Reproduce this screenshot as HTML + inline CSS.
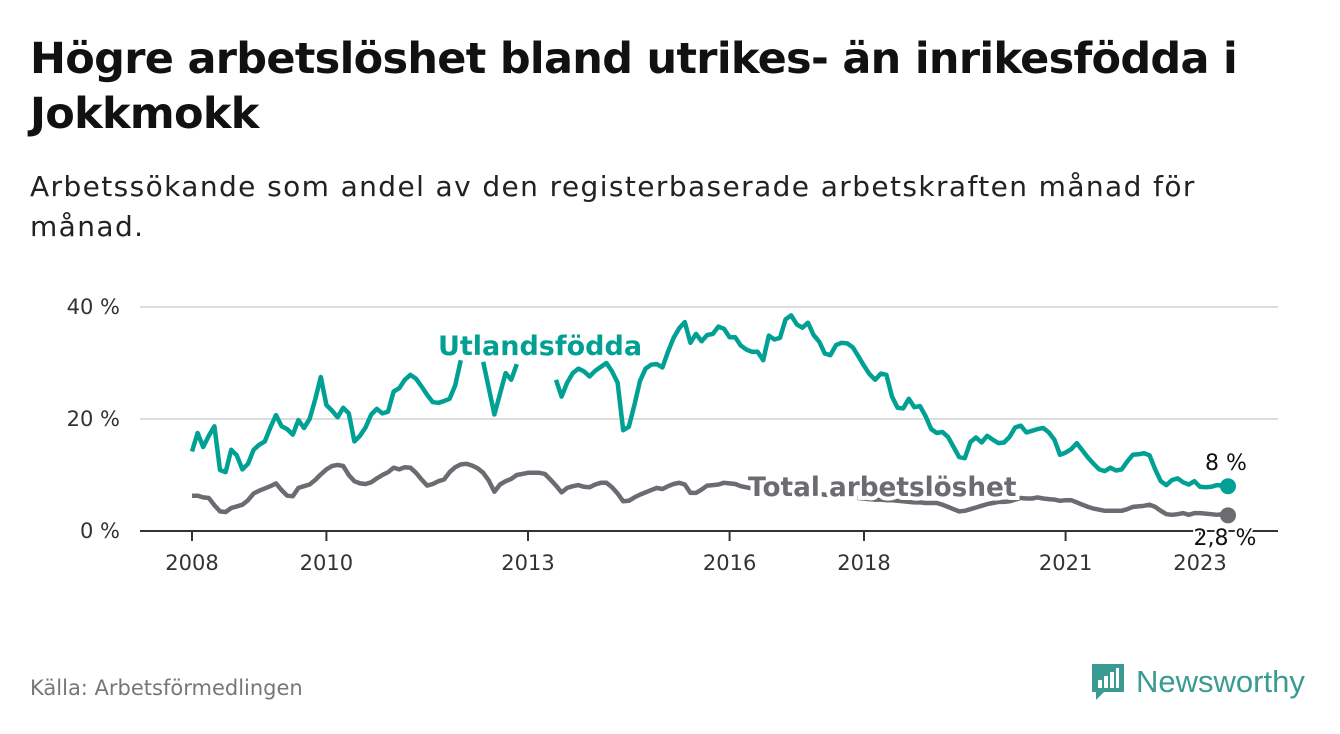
<!DOCTYPE html>
<html><head><meta charset="utf-8">
<style>
body{margin:0;background:#fff;width:1340px;height:734px;overflow:hidden;font-family:"DejaVu Sans",sans-serif;}
#title{position:absolute;left:30px;top:32px;font-size:43px;letter-spacing:-0.7px;font-weight:bold;line-height:55px;color:#111;margin:0;}
#sub{position:absolute;left:30px;top:167px;font-size:28px;letter-spacing:1.4px;line-height:40px;color:#222;margin:0;}
#src{position:absolute;left:30px;top:676px;font-size:21px;color:#777;}
#logo{position:absolute;left:1090px;top:662px;display:flex;align-items:center;}
#logo span{font-family:"Liberation Sans",sans-serif;font-size:31px;color:#3a9b92;margin-left:10px;}
svg{position:absolute;left:0;top:0;}
</style></head><body>
<h1 id="title">Högre arbetslöshet bland utrikes- än inrikesfödda i<br>Jokkmokk</h1>
<p id="sub">Arbetssökande som andel av den registerbaserade arbetskraften månad för<br>månad.</p>
<div id="src">Källa: Arbetsförmedlingen</div>
<div id="logo">
<svg width="36" height="40" style="position:static"><path d="M2 2h32v28H14l-8 8v-8H2z" fill="#3a9b92"/><rect x="8" y="18" width="4" height="8" fill="#fff"/><rect x="14" y="14" width="4" height="12" fill="#fff"/><rect x="20" y="10" width="4" height="16" fill="#fff"/><rect x="26" y="6" width="3" height="20" fill="#fff"/></svg>
<span>Newsworthy</span></div>
<svg id="chart" width="1340" height="734"></svg>
<script>
const yTicks=[0,20,40];
const yTickLabels=["0 %","20 %","40 %"];
const xTicks=[2008,2010,2013,2016,2018,2021,2023];
const startYear=2008;
const utland=[14.2,17.5,15.0,17,18.7,10.9,10.5,14.5,13.5,11,12,14.5,15.4,16,18.5,20.7,18.7,18.2,17.2,19.8,18.4,20,23.5,27.5,22.5,21.5,20.3,22,21,16,17,18.5,20.8,21.8,21,21.3,24.9,25.5,27,27.9,27.2,25.8,24.3,23,22.9,23.2,23.6,26,30.5,null,null,null,30.2,25.5,20.8,24.5,28.2,27,29.8,null,null,null,null,null,null,27,24,26.5,28.2,29,28.5,27.6,28.6,29.3,30,28.5,26.5,18,18.6,22.5,26.8,29,29.7,29.8,29.2,32,34.5,36.2,37.3,33.6,35.2,33.9,35,35.2,36.5,36.1,34.6,34.6,33.1,32.4,32,32,30.5,34.9,34.2,34.5,37.8,38.5,36.9,36.3,37.2,35,33.8,31.7,31.4,33.2,33.6,33.5,32.8,31.2,29.5,28,27,28.1,27.9,24,22,21.9,23.6,22.1,22.3,20.5,18.2,17.5,17.7,16.8,15,13.2,13,15.9,16.7,15.8,17,16.3,15.7,15.8,16.8,18.5,18.8,17.6,17.9,18.2,18.4,17.6,16.3,13.6,14,14.6,15.7,14.4,13.1,12,11,10.7,11.3,10.8,11,12.4,13.6,13.7,13.9,13.5,11,8.9,8.2,9.1,9.4,8.7,8.3,8.9,7.9,7.8,7.9,8.2,8.1,8.0];
const total=[6.3,6.3,6.0,5.9,4.6,3.5,3.4,4.1,4.4,4.7,5.5,6.7,7.2,7.6,8.0,8.5,7.3,6.3,6.2,7.7,8.0,8.3,9.1,10.1,11.0,11.6,11.8,11.6,10,8.9,8.5,8.4,8.7,9.4,10.0,10.5,11.3,11,11.4,11.3,10.4,9.2,8.1,8.4,8.9,9.2,10.5,11.4,11.9,12.0,11.7,11.2,10.4,9.0,7.0,8.3,8.9,9.3,10.0,10.2,10.4,10.4,10.4,10.2,9.2,8.1,6.9,7.7,8.0,8.2,7.9,7.8,8.3,8.6,8.6,7.8,6.7,5.3,5.4,6.0,6.5,6.9,7.3,7.7,7.5,8.0,8.4,8.6,8.3,6.8,6.8,7.4,8.1,8.2,8.3,8.6,8.5,8.4,8.0,7.8,7.6,7.5,7.4,7.3,7.2,7.2,7.0,7.0,6.9,6.8,6.7,6.7,6.6,6.5,6.4,6.3,6.2,6.1,6.0,5.9,5.8,5.7,5.6,5.6,5.5,5.5,5.4,5.3,5.2,5.1,5.1,5.0,5.0,5.0,4.7,4.3,3.9,3.5,3.6,3.9,4.2,4.5,4.8,5.0,5.2,5.2,5.3,5.6,5.9,5.8,5.8,6.0,5.8,5.7,5.6,5.4,5.5,5.5,5.1,4.7,4.3,4.0,3.8,3.6,3.6,3.6,3.6,3.9,4.3,4.4,4.5,4.7,4.3,3.6,3.0,2.9,3.0,3.2,2.9,3.2,3.2,3.1,3.0,2.9,3.0,2.8];
const seriesNames=["Utlandsfödda","Total arbetslöshet"];
const endLabels=["8 %","2,8 %"];

const NS="http://www.w3.org/2000/svg";
const svg=document.getElementById('chart');
const x0=192,pxMonth=5.6,y0=531,pxPct=5.6;
const FF='DejaVu Sans, sans-serif';
const xm=i=>x0+i*pxMonth;
const xy=yr=>x0+(yr-startYear)*12*pxMonth;
const yv=v=>y0-v*pxPct;
function mk(t,a){const e=document.createElementNS(NS,t);for(const k in a)e.setAttribute(k,a[k]);svg.appendChild(e);return e;}
yTicks.forEach((v,i)=>{
  const l=mk('line',{x1:140,x2:1278,y1:yv(v),y2:yv(v),stroke:v===0?'#333':'#ddd','stroke-width':2});
  
  
  const t=mk('text',{x:120,y:yv(v)+7,'text-anchor':'end','font-size':21,fill:'#333','font-family':FF});
  t.textContent=yTickLabels[i];
  
  
});
xTicks.forEach(yr=>{
  const l=mk('line',{x1:xy(yr),x2:xy(yr),y1:531,y2:541,stroke:'#333','stroke-width':2});
  
  
  const t=mk('text',{x:xy(yr),y:570,'text-anchor':'middle','font-size':21,fill:'#333','font-family':FF});
  t.textContent=yr;
  
  
});
function pathFor(arr){let d='',pen=false;arr.forEach((v,i)=>{if(v===null){pen=false;return;}d+=(pen?'L':'M')+xm(i).toFixed(1)+','+yv(v).toFixed(1);pen=true;});return d;}
const cols=['#00a194','#6d6b72'];
[total,utland].forEach((arr,k)=>{
  const c=k===0?cols[1]:cols[0];
  const p=mk('path',{d:pathFor(arr),fill:'none',stroke:c,'stroke-width':4.5,'stroke-linejoin':'round'});
  
  
  const last=arr.length-1;
  const dot=mk('circle',{cx:xm(last),cy:yv(arr[last]),r:8,fill:c});
  
  
});
function lbl(txt,x,y,opt,name){const t=mk('text',Object.assign({x:x,y:y,'font-family':FF},opt));t.textContent=txt;return t;}
lbl(seriesNames[0],540,355,{'text-anchor':'middle','font-size':27,'font-weight':'bold',fill:cols[0],stroke:'#fff','stroke-width':6,'paint-order':'stroke'},'utland-label');
lbl(seriesNames[1],748,496,{'font-size':26.3,'font-weight':'bold',fill:cols[1],stroke:'#fff','stroke-width':8,'paint-order':'stroke'},'total-label');
lbl(endLabels[0],1226,470,{'text-anchor':'middle','font-size':22,fill:'#111'},'utland-end-value');
lbl(endLabels[1],1225,545,{'text-anchor':'middle','font-size':22,fill:'#111',stroke:'#fff','stroke-width':4,'paint-order':'stroke'},'total-end-value');
</script>
</body></html>
